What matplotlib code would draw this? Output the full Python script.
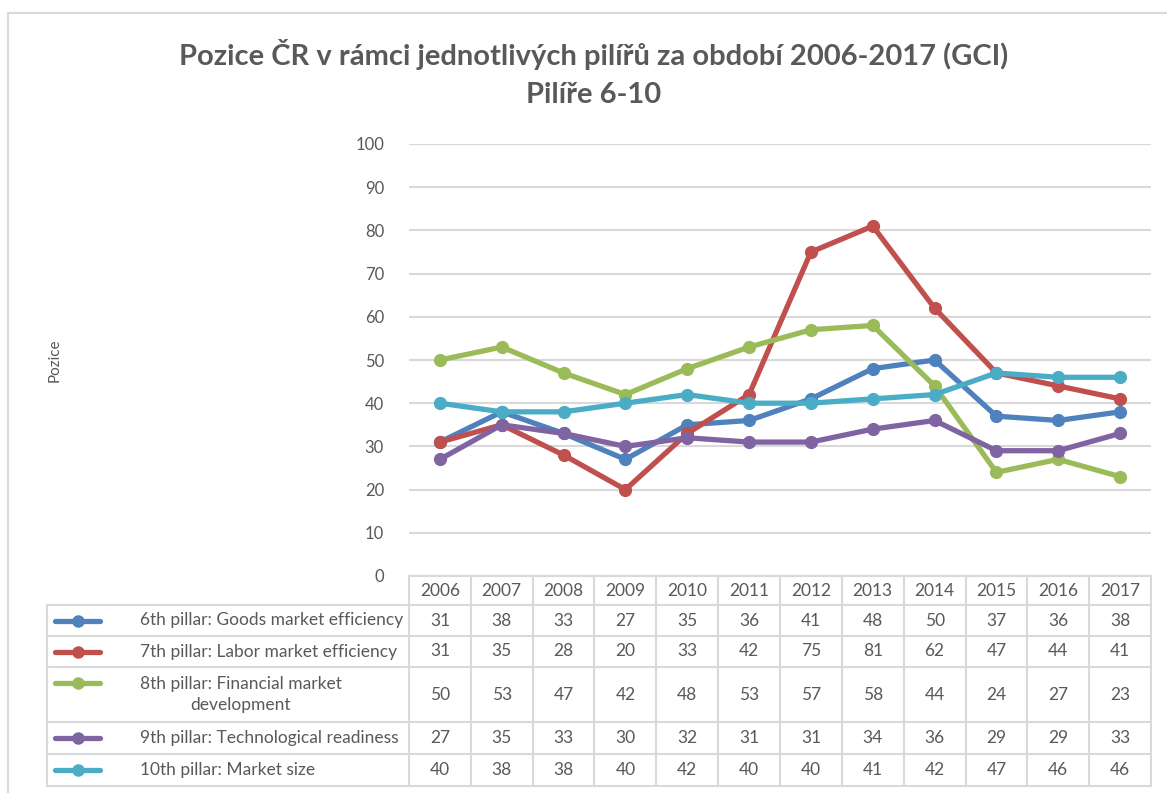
import numpy as np
import matplotlib.pyplot as plt
from matplotlib.patches import Rectangle
from matplotlib.lines import Line2D

plt.rcParams['font.family'] = ['Lato', 'DejaVu Sans']

years = ['2006', '2007', '2008', '2009', '2010', '2011', '2012', '2013', '2014', '2015', '2016', '2017']

goods = [31, 38, 33, 27, 35, 36, 41, 48, 50, 37, 36, 38]
labor = [31, 35, 28, 20, 33, 42, 75, 81, 62, 47, 44, 41]
financial = [50, 53, 47, 42, 48, 53, 57, 58, 44, 24, 27, 23]
tech = [27, 35, 33, 30, 32, 31, 31, 34, 36, 29, 29, 33]
market = [40, 38, 38, 40, 42, 40, 40, 41, 42, 47, 46, 46]

labels = ['6th pillar: Goods market efficiency',
          '7th pillar: Labor market efficiency',
          '8th pillar: Financial market\ndevelopment',
          '9th pillar: Technological readiness',
          '10th pillar: Market size']
series = [goods, labor, financial, tech, market]
colors = ['#4F81BD', '#C0504D', '#9BBB59', '#8064A2', '#4BACC6']

W, H = 1167, 793
fig = plt.figure(figsize=(W / 100, H / 100), dpi=100)


def fx(px):
    return px / W


def fy(py):
    return 1 - py / H


grey = '#595959'
gridc = '#D9D9D9'

# chart frame
fig.patches.append(Rectangle((fx(8), fy(800)), fx(1180) - fx(8), fy(13) - fy(800),
                             transform=fig.transFigure, fill=False, ec=gridc, lw=1.5))

# plot area
left, right, top, bottom = 409, 1151, 144, 576
ax = fig.add_axes([fx(left), fy(bottom), fx(right) - fx(left), fy(top) - fy(bottom)])
x = np.arange(len(years))
for s, c in zip(series, colors):
    ax.plot(x, s, color=c, lw=3.8, marker='o', markersize=8.5, solid_capstyle='round',
            solid_joinstyle='round', zorder=3)
ax.set_xlim(-0.5, len(years) - 0.5)
ax.set_ylim(0, 100)
ax.set_yticks(np.arange(0, 101, 10))
ax.set_xticks([])
ax.tick_params(axis='y', length=0, pad=18, labelsize=12, labelcolor=grey)
ax.grid(axis='y', color=gridc, lw=1.5)
ax.set_axisbelow(True)
for sp in ax.spines.values():
    sp.set_visible(False)

fig.text(fx(55), fy(360), 'Pozice', rotation=90, ha='center', va='center', fontsize=11, color=grey)

fig.text(0.5 * (fx(178) + fx(1010)), fy(55), 'Pozice ČR v rámci jednotlivých pilířů za období 2006-2017 (GCI)',
         ha='center', va='center', fontsize=21, fontweight='bold', color=grey)
fig.text(0.5 * (fx(178) + fx(1010)), fy(95), 'Pilíře 6-10',
         ha='center', va='center', fontsize=21, fontweight='bold', color=grey)

# data table
rows = [576, 605, 636, 667, 722, 754, 786]
tbl_left = 47
colw = (right - left) / len(years)
lk = dict(transform=fig.transFigure, color=gridc, lw=1.5)

# header
fig.lines.append(Line2D([fx(left), fx(right)], [fy(rows[0])] * 2, **lk))
for r in rows[1:]:
    fig.lines.append(Line2D([fx(tbl_left), fx(right)], [fy(r)] * 2, **lk))
for i in range(len(years) + 1):
    xp = left + i * colw
    fig.lines.append(Line2D([fx(xp)] * 2, [fy(rows[0]), fy(rows[-1])], **lk))
fig.lines.append(Line2D([fx(tbl_left)] * 2, [fy(rows[1]), fy(rows[-1])], **lk))

for i, yr in enumerate(years):
    fig.text(fx(left + (i + 0.5) * colw), fy((rows[0] + rows[1]) / 2), yr,
             ha='center', va='center', fontsize=12.5, color=grey)

for k, (lab, s, c) in enumerate(zip(labels, series, colors)):
    yc = fy((rows[k + 1] + rows[k + 2]) / 2)
    yl = yc
    if '\n' in lab:
        yl = fy(rows[k + 1] + 16)
    fig.lines.append(Line2D([fx(55), fx(100)], [yl, yl], transform=fig.transFigure, color=c,
                            lw=3.8, solid_capstyle='round'))
    fig.lines.append(Line2D([fx(77.5)], [yl], transform=fig.transFigure, color=c,
                            marker='o', markersize=8))
    fig.text(fx(140), yc, lab, ha='left', va='center', fontsize=12.5, color=grey,
             multialignment='center', linespacing=1.45)
    for i, v in enumerate(s):
        fig.text(fx(left + (i + 0.5) * colw), yc, str(v),
                 ha='center', va='center', fontsize=12.5, color=grey)

fig.savefig('out.png', dpi=100)
